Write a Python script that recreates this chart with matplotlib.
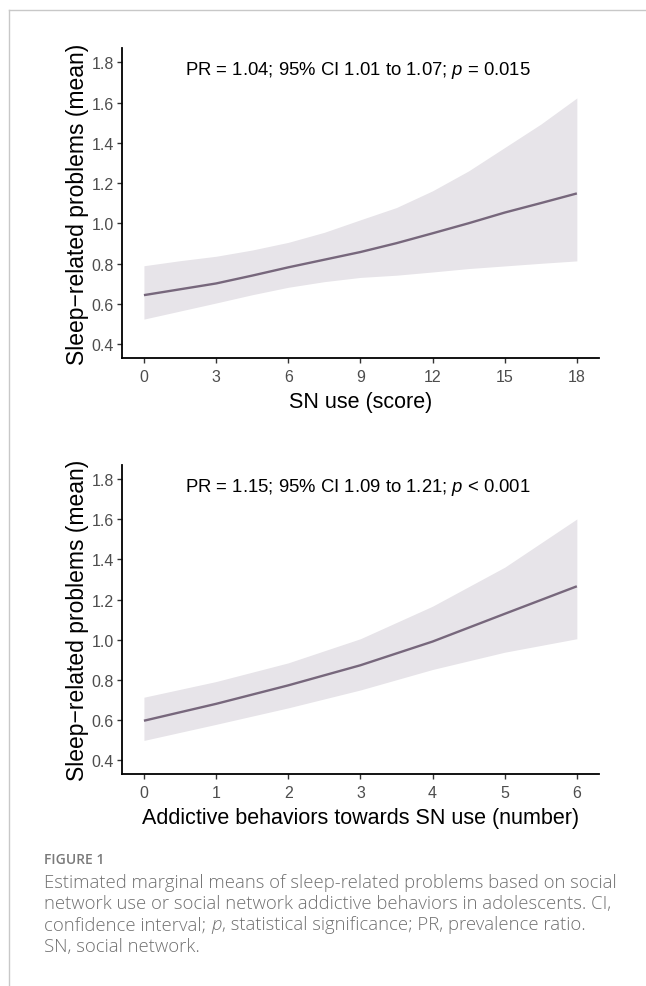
import numpy as np
import matplotlib
matplotlib.use("Agg")
import matplotlib.pyplot as plt
from matplotlib.lines import Line2D

plt.rcParams['font.family'] = ['Liberation Sans', 'DejaVu Sans']
plt.rcParams['mathtext.fontset'] = 'custom'
plt.rcParams['mathtext.rm'] = 'Liberation Sans'
plt.rcParams['mathtext.it'] = 'Liberation Sans:italic'

# marginal means vs SN use score
snScore = [0, 1.5, 3, 4.5, 6, 7.5, 9, 10.5, 12, 13.5, 15, 16.5, 18]
snFit = [0.644, 0.673, 0.702, 0.741, 0.782, 0.820, 0.858, 0.902, 0.951, 1.001, 1.054, 1.101, 1.149]
snUpper = [0.790, 0.815, 0.837, 0.868, 0.906, 0.956, 1.018, 1.079, 1.162, 1.261, 1.377, 1.493, 1.623]
snLower = [0.525, 0.565, 0.605, 0.646, 0.683, 0.711, 0.732, 0.743, 0.759, 0.776, 0.789, 0.802, 0.814]
snTicks = [0, 3, 6, 9, 12, 15, 18]

# marginal means vs number of addictive behaviours
addNum = [0, 1, 2, 3, 4, 5, 6]
addFit = [0.597, 0.681, 0.773, 0.873, 0.991, 1.129, 1.266]
addUpper = [0.714, 0.792, 0.885, 1.005, 1.167, 1.361, 1.601]
addLower = [0.499, 0.579, 0.661, 0.750, 0.852, 0.938, 1.005]
addTicks = [0, 1, 2, 3, 4, 5, 6]

yTicks = [0.4, 0.6, 0.8, 1.0, 1.2, 1.4, 1.6, 1.8]
yLabel = "Sleep\u2212related problems (mean)"
xLabels = ["SN use (score)", "Addictive behaviors towards SN use (number)"]
notes = ["PR = 1.04; 95% CI 1.01 to 1.07; $p$ = 0.015",
         "PR = 1.15; 95% CI 1.09 to 1.21; $p$ < 0.001"]

captionHead = "FIGURE 1"
captionLines = [
    "Estimated marginal means of sleep-related problems based on social",
    "network use or social network addictive behaviors in adolescents. CI,",
    ["confidence interval; ", "p", ", statistical significance; PR, prevalence ratio."],
    "SN, social network.",
]

lineCol = '#77677c'
bandCol = '#e7e4e9'
W, H = 646, 987


def drawPanel(ax, x, fit, lower, upper, ticks, xlabel, note):
    ax.fill_between(x, lower, upper, color=bandCol, lw=0)
    ax.plot(x, fit, color=lineCol, lw=1.7, solid_capstyle='butt')
    pad = (ticks[-1] - ticks[0]) * 0.05
    ax.set_xlim(ticks[0] - pad, ticks[-1] + pad)
    ax.set_ylim(0.3304, 1.8696)
    ax.set_xticks(ticks)
    ax.set_yticks(yTicks)
    ax.set_yticklabels(["%.1f" % v for v in yTicks])
    for s in ['top', 'right']:
        ax.spines[s].set_visible(False)
    for s in ['left', 'bottom']:
        ax.spines[s].set_linewidth(1.3)
        ax.spines[s].set_color('black')
    ax.tick_params(length=3.6, width=1.0, color='#333333', labelcolor='#4d4d4d',
                   labelsize=11.5)
    ax.tick_params(axis='x', pad=4.2)
    ax.tick_params(axis='y', pad=2.5)
    ax.set_xlabel(xlabel, fontsize=15.5, labelpad=5)
    ax.set_ylabel(yLabel, fontsize=16.5, labelpad=1.5)
    ax.text(0.494, 0.932, note, transform=ax.transAxes, ha='center', va='center',
            fontsize=13.3)


fig = plt.figure(figsize=(W / 100, H / 100), dpi=100)

ax1 = fig.add_axes([122.3 / W, 1 - 359.3 / H, 476.2 / W, 310 / H])
drawPanel(ax1, snScore, snFit, snLower, snUpper, snTicks, xLabels[0], notes[0])

ax2 = fig.add_axes([122.3 / W, 1 - 775.3 / H, 476.2 / W, 309.3 / H])
drawPanel(ax2, addNum, addFit, addLower, addUpper, addTicks, xLabels[1], notes[1])

# page frame (left and top rules)
frameX = 9.3 / W
frameY = 1 - 10.7 / H
fig.add_artist(Line2D([frameX, frameX], [0, frameY], transform=fig.transFigure,
                      color='#c8c8c8', lw=1.0))
fig.add_artist(Line2D([frameX, 1], [frameY, frameY], transform=fig.transFigure,
                      color='#c8c8c8', lw=1.0))

# caption
capFont = ['Open Sans', 'DejaVu Sans']
capSize = 13.3
capX = 44.3 / W
fig.text(capX, 1 - 860 / H, captionHead, family=capFont, fontsize=10,
         fontweight='semibold', color='#7a7a7a', ha='left', va='center')

renderer = fig.canvas.get_renderer()
lineY = [882.5, 904, 925.5, 947]
for y, line in zip(lineY, captionLines):
    yf = 1 - y / H
    if isinstance(line, str):
        fig.text(capX, yf, line, family=capFont, fontsize=capSize, color='#707070',
                 fontweight='light', ha='left', va='center')
        continue
    xf = capX
    for i, part in enumerate(line):
        t = fig.text(xf, yf, part, family=capFont, fontsize=capSize, color='#707070',
                     fontweight='light', ha='left', va='center',
                     style='italic' if i == 1 else 'normal')
        bb = t.get_window_extent(renderer)
        xf = bb.x1 / W

fig.savefig('out.png', dpi=100)
